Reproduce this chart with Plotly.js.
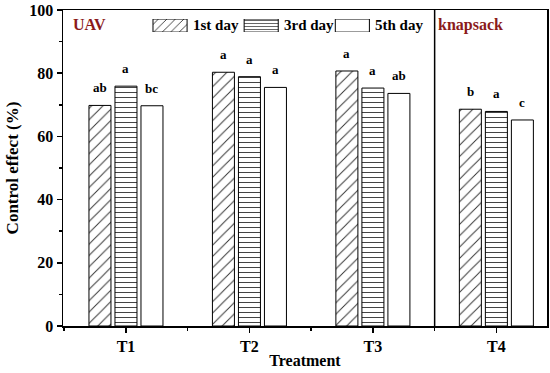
<!DOCTYPE html>
<html>
<head>
<meta charset="utf-8">
<script src="https://cdn.plot.ly/plotly-3.0.1.min.js"></script>
<style>
  html, body { margin: 0; padding: 0; background: #fff; }
  #chart { width: 550px; height: 373px; }
</style>
</head>
<body>
<div id="chart"></div>
<script>
// ---- data ----
const categories = ['T1', 'T2', 'T3', 'T4'];
const seriesNames = ['1st day', '3rd day', '5th day'];
const day1 = [69.8, 80.3, 80.7, 68.6];
const day3 = [75.9, 78.9, 75.3, 67.9];
const day5 = [69.7, 75.5, 73.6, 65.2];
const letters1 = ['ab', 'a', 'a', 'b'];
const letters3 = ['a', 'a', 'a', 'a'];
const letters5 = ['bc', 'a', 'ab', 'c'];
const groupLabels = ['UAV', 'knapsack'];

// ---- styling ----
const FONT = 'Liberation Serif, Times New Roman, serif';
const DARKRED = '#8b1a1a';
const xIdx = categories.map((c, i) => i);
const values = [day1, day3, day5];
const letters = [letters1, letters3, letters5];
const patterns = [
  {shape: '/', size: 8, solidity: 0.12, fgcolor: '#333', bgcolor: '#fff'},
  {shape: '-', size: 5, solidity: 0.2, fgcolor: '#444', bgcolor: '#fff'},
  {shape: '', fgcolor: '#444', bgcolor: '#fff'}
];

const traces = seriesNames.map((name, s) => ({
  type: 'bar',
  name: name,
  x: xIdx,
  y: values[s],
  marker: {
    color: '#fff',
    line: {color: '#000', width: 1},
    pattern: patterns[s]
  },
  showlegend: false,
  hoverinfo: 'skip'
}));

// custom legend keys (wide rectangles like the original)
const legendIdx = seriesNames.map((n, i) => i);
traces.push({
  type: 'bar',
  x: legendIdx,
  y: seriesNames.map(() => 1),
  xaxis: 'x2', yaxis: 'y2',
  width: 0.374,
  marker: {
    color: '#fff',
    line: {color: '#000', width: 1},
    pattern: {
      shape: patterns.map(p => p.shape),
      size: [6, 3, 6],
      solidity: [0.15, 0.25, 0.2],
      fgcolor: '#333', bgcolor: '#fff'
    }
  },
  showlegend: false,
  hoverinfo: 'skip'
});

const annotations = [];
const pitch = 26;
seriesNames.forEach((name, s) => {
  xIdx.forEach((xi, i) => {
    annotations.push({
      x: xi, y: values[s][i], xref: 'x', yref: 'y',
      xshift: (s - 1) * pitch, yshift: 8,
      yanchor: 'bottom', xanchor: 'center',
      text: letters[s][i], showarrow: false,
      font: {family: FONT, size: 13, color: '#000', weight: 'bold'}
    });
  });
  annotations.push({
    x: legendIdx[s], xref: 'x2', xshift: 21,
    y: 0.951, yref: 'paper', xanchor: 'left', yanchor: 'middle',
    text: name, showarrow: false,
    font: {family: FONT, size: 15, color: '#000', weight: 'bold'}
  });
});
annotations.push({
  xref: 'paper', yref: 'paper', x: 0.016, y: 0.988, xanchor: 'left', yanchor: 'top',
  text: groupLabels[0], showarrow: false,
  font: {family: FONT, size: 16, color: DARKRED, weight: 'bold'}
});
annotations.push({
  xref: 'x', yref: 'paper', x: 2.5, xshift: 1, y: 0.988, xanchor: 'left', yanchor: 'top',
  text: groupLabels[1], showarrow: false,
  font: {family: FONT, size: 16, color: DARKRED, weight: 'bold'}
});

const layout = {
  width: 550, height: 373,
  margin: {l: 63, r: 3, t: 10, b: 47},
  paper_bgcolor: '#fff', plot_bgcolor: '#fff',
  font: {family: FONT, size: 16, color: '#000', weight: 'bold'},
  barmode: 'group',
  bargap: 0.368,
  bargroupgap: 0.154,
  showlegend: false,
  xaxis: {
    range: [-0.51, 3.41],
    tickmode: 'array', tickvals: xIdx, ticktext: categories,
    ticks: 'outside', ticklen: 5, tickwidth: 1.5, tickcolor: '#000',
    minor: {dtick: 0.5, tick0: 0.5, ticks: 'outside', ticklen: 3, tickwidth: 1.5, tickcolor: '#000'},
    showline: true, linecolor: '#000', linewidth: 1.5, mirror: true,
    showgrid: false, zeroline: false,
    tickfont: {family: FONT, size: 16, color: '#000', weight: 'bold'},
    title: {text: 'Treatment', standoff: 1, font: {family: FONT, size: 16, color: '#000', weight: 'bold'}}
  },
  yaxis: {
    range: [0, 100], dtick: 20, tick0: 0,
    ticks: 'outside', ticklen: 5, tickwidth: 1.5, tickcolor: '#000',
    minor: {dtick: 10, ticks: 'outside', ticklen: 3, tickwidth: 1.5, tickcolor: '#000'},
    showline: true, linecolor: '#000', linewidth: 1.5, mirror: true,
    showgrid: false, zeroline: false,
    tickfont: {family: FONT, size: 16, color: '#000', weight: 'bold'},
    title: {text: 'Control effect (%)', standoff: 6, font: {family: FONT, size: 17, color: '#000', weight: 'bold'}}
  },
  xaxis2: {
    domain: [0.127, 0.692], range: [-0.5, 2.5], anchor: 'y2',
    visible: false, showgrid: false, zeroline: false, fixedrange: true
  },
  yaxis2: {
    domain: [0.930, 0.9715], range: [0, 1], anchor: 'x2',
    visible: false, showgrid: false, zeroline: false, fixedrange: true
  },
  shapes: [{
    type: 'line', xref: 'x', yref: 'paper', x0: 2.5, x1: 2.5, y0: 0, y1: 1,
    line: {color: '#000', width: 1.5}
  }],
  annotations: annotations
};

Plotly.newPlot('chart', traces, layout, {displayModeBar: false, staticPlot: true});
</script>
</body>
</html>
